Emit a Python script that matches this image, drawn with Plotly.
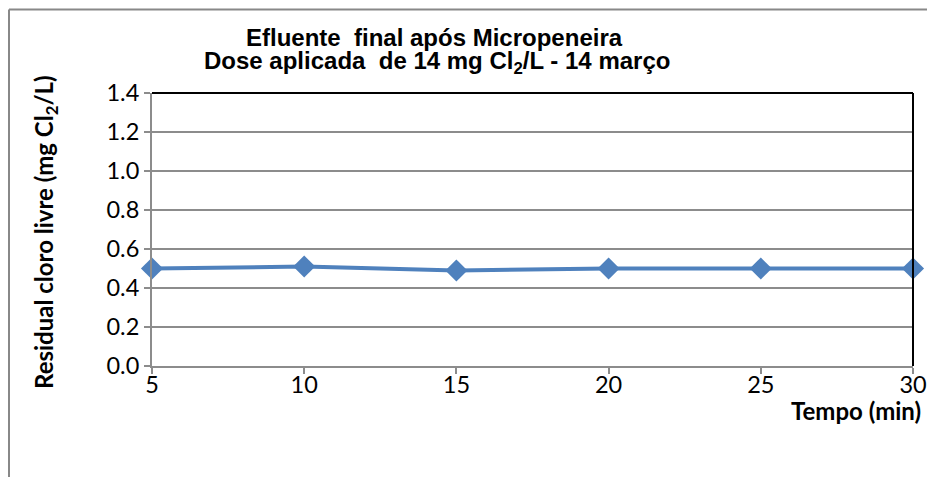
import plotly.graph_objects as go

tempo = [5, 10, 15, 20, 25, 30]
residual = [0.50, 0.51, 0.49, 0.50, 0.50, 0.50]
y_ticks = [0.0, 0.2, 0.4, 0.6, 0.8, 1.0, 1.2, 1.4]

W, H = 927, 477
L, R, T, B = 152, 14, 93, 111
PW, PH = W - L - R, H - T - B


def px(x):
    return (x - L) / PW


def py(y):
    return (H - B - y) / PH


fig = go.Figure()
fig.add_trace(go.Scatter(
    x=tempo, y=residual, mode="lines+markers",
    line=dict(color="#4F81BD", width=4),
    marker=dict(symbol="diamond", size=17, color="#4F81BD"),
    cliponaxis=False, showlegend=False,
))

grid = "#8C8C8C"
tick_font = dict(family="Lato, Carlito, sans-serif", size=23.5, color="black")
fig.update_xaxes(
    range=[5, 30], tickvals=tempo, ticktext=[str(t) for t in tempo],
    showgrid=False, zeroline=False, automargin=False,
    showline=True, linecolor=grid, linewidth=2,
    ticks="outside", ticklen=6, tickcolor=grid, tickwidth=2,
    tickfont=tick_font, ticklabelstandoff=-9,
)
fig.update_yaxes(
    range=[0, 1.4], tickvals=y_ticks, ticktext=[f"{v:.1f}" for v in y_ticks],
    showgrid=True, gridcolor=grid, gridwidth=2, zeroline=False, automargin=False,
    showline=True, linecolor=grid, linewidth=2,
    ticks="outside", ticklen=6, tickcolor=grid, tickwidth=2,
    tickfont=tick_font,
)

# black frame on top and right of plot area
fig.add_shape(type="line", xref="paper", yref="paper", x0=0, x1=1, y0=1, y1=1,
              line=dict(color="black", width=2))
fig.add_shape(type="line", xref="paper", yref="paper", x0=1, x1=1, y0=0, y1=1,
              line=dict(color="black", width=2))
# outer chart border (only left and top edges fall inside the picture)
fig.add_shape(type="line", xref="paper", yref="paper",
              x0=px(9), x1=px(9), y0=py(9.5), y1=py(H + 20),
              line=dict(color="#888888", width=2), layer="below")
fig.add_shape(type="line", xref="paper", yref="paper",
              x0=px(9), x1=px(W + 20), y0=py(9.5), y1=py(9.5),
              line=dict(color="#888888", width=2), layer="below")

title_font = dict(family="Liberation Sans, Arial", size=24, color="black")
fig.add_annotation(
    text="<b>Efluente  final após Micropeneira</b>",
    xref="paper", yref="paper", x=px(434), y=py(37),
    showarrow=False, xanchor="center", yanchor="middle", font=title_font,
)
fig.add_annotation(
    text="<b>Dose aplicada  de 14 mg Cl<sub>2</sub>/L - 14 março</b>",
    xref="paper", yref="paper", x=px(437), y=py(63),
    showarrow=False, xanchor="center", yanchor="middle", font=title_font,
)
fig.add_annotation(
    text="<b>Residual cloro livre (mg Cl<sub>2</sub>/L)</b>",
    xref="paper", yref="paper", x=px(45), y=py(232), textangle=-90,
    showarrow=False, xanchor="center", yanchor="middle",
    font=dict(family="Lato, Carlito, sans-serif", size=24, color="black"),
)
fig.add_annotation(
    text="<b>Tempo (min)</b>",
    xref="paper", yref="paper", x=px(923), y=py(410),
    showarrow=False, xanchor="right", yanchor="middle",
    font=dict(family="Lato, Carlito, sans-serif", size=24, color="black"),
)

fig.update_layout(
    width=W, height=H,
    margin=dict(l=L, r=R, t=T, b=B, autoexpand=False),
    plot_bgcolor="white", paper_bgcolor="white",
)

# drop the default body margin so the figure fills the window
fig.write_html("out.html", config={"displayModeBar": False},
               post_script="document.body.style.margin='0';")
